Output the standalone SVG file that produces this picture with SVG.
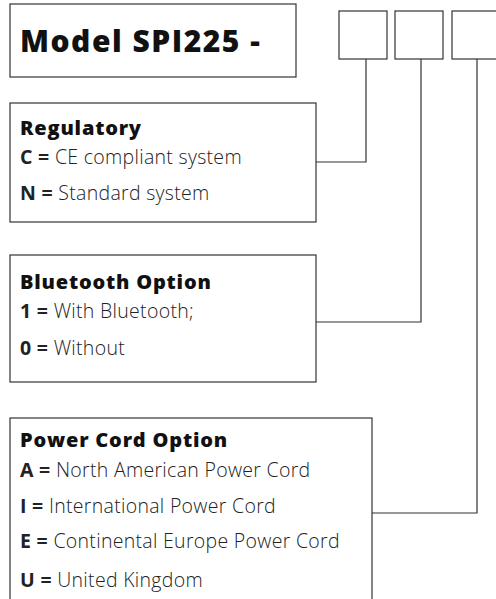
<svg xmlns="http://www.w3.org/2000/svg" width="496" height="599" viewBox="0 0 496 599">
<style>
.box{fill:#fff;stroke:#333;stroke-width:1.2}
.ln{fill:none;stroke:#333;stroke-width:1.2}
.t{font-family:"Open Sans","Noto Sans",sans-serif;font-size:19.5px;font-weight:300;letter-spacing:0.3px;fill:#222}
.h{font-family:"Open Sans","Noto Sans",sans-serif;font-size:20px;font-weight:800;letter-spacing:0.8px;fill:#111}
.b{font-weight:700}
.title{font-family:"Open Sans","Noto Sans",sans-serif;font-size:30px;font-weight:800;letter-spacing:1.5px;fill:#111}
</style>
<rect width="496" height="599" fill="#fff"/>
<g id="connectors">
<polyline class="ln" points="366,59 366,162 316,162"/>
<polyline class="ln" points="421,59 421,322 316,322"/>
<polyline class="ln" points="477,59 477,513 372,513"/>
</g>
<g id="model">
<rect class="box" x="10" y="4" width="286" height="73"/>
<text class="title" x="20" y="52">Model SPI225 -</text>
</g>
<g id="slot1"><rect class="box" x="339" y="11" width="48" height="48"/></g>
<g id="slot2"><rect class="box" x="395" y="11" width="48" height="48"/></g>
<g id="slot3"><rect class="box" x="452" y="11" width="48" height="48"/></g>
<g id="regulatory">
<rect class="box" x="10" y="103" width="306" height="119"/>
<text class="h" x="20" y="135">Regulatory</text>
<text class="t" x="20" y="164"><tspan class="b">C =</tspan> CE compliant system</text>
<text class="t" x="20" y="200"><tspan class="b">N =</tspan> Standard system</text>
</g>
<g id="bluetooth">
<rect class="box" x="10" y="255" width="306" height="127"/>
<text class="h" x="20" y="289">Bluetooth Option</text>
<text class="t" x="20" y="318"><tspan class="b">1 =</tspan> With Bluetooth;</text>
<text class="t" x="20" y="355"><tspan class="b">0 =</tspan> Without</text>
</g>
<g id="powercord">
<rect class="box" x="10" y="418" width="362" height="200"/>
<text class="h" x="20" y="447">Power Cord Option</text>
<text class="t" x="20" y="477"><tspan class="b">A =</tspan> North American Power Cord</text>
<text class="t" x="20" y="513"><tspan class="b">I =</tspan> International Power Cord</text>
<text class="t" x="20" y="548"><tspan class="b">E =</tspan> Continental Europe Power Cord</text>
<text class="t" x="20" y="587"><tspan class="b">U =</tspan> United Kingdom</text>
</g>
</svg>
